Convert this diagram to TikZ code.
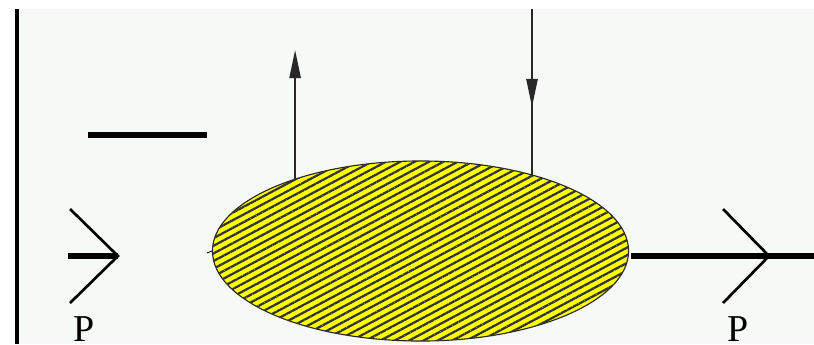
\documentclass[tikz,border=0pt]{standalone}
\usepackage{fontspec}
\setmainfont{Liberation Serif}
\usepackage{tikz}
\usetikzlibrary{shapes.geometric, arrows.meta, patterns.meta}
\definecolor{paneltint}{RGB}{245,250,247}
\definecolor{blobyellow}{RGB}{255,255,0}
\definecolor{inkgrey}{RGB}{40,40,40}

\begin{document}
\begin{tikzpicture}[
    x=0.025cm, y=-0.025cm,
    blob/.style={ellipse, draw=black!85, line width=0.8pt, fill=blobyellow,
                 minimum width=10.4cm, minimum height=4.5cm, inner sep=0pt,
                 postaction={pattern={Lines[angle=28, distance=4.8pt,
                                            line width=1.6pt]},
                             pattern color=black!80}},
    thinflow/.style={-{Triangle[length=20pt, width=8pt]}, draw=inkgrey,
                     line width=1.3pt},
    heavy/.style={line width=4.3pt},
    chevron/.style={line width=1.9pt},
    plab/.style={font=\fontsize{27}{27}\selectfont, inner sep=0pt,
                 anchor=north},
]
\useasboundingbox (0,0) rectangle (814,344);

%---------------------------------------------------------------
% panel background and left rule
%---------------------------------------------------------------
\fill[paneltint] (17,9) rectangle (814,344);
\draw[line width=2.2pt] (17,9) -- (17,344);

%---------------------------------------------------------------
% central blob
%---------------------------------------------------------------
\node[blob] (blob) at (420.5,251) {};
\coordinate (tickin) at (207,253);
\draw[line width=0.6pt] (tickin) -- (blob.west);

% vertical legs: one leaving upwards, one coming down from the top
\coordinate (uptip) at (297,50);
\coordinate (topin) at (532,9);
\draw[thinflow] (blob.150) -- (blob.150 |- uptip);
\draw[draw=inkgrey, line width=1.3pt] (topin) -- (topin |- blob.34);
\coordinate (downtip) at (532,107);
\draw[thinflow] (topin) -- (downtip);

%---------------------------------------------------------------
% bar on the upper left
%---------------------------------------------------------------
\coordinate (barl) at (88,135);
\coordinate (barr) at (207,135);
\draw[heavy] (barl) -- (barr);

%---------------------------------------------------------------
% incoming line on the left, outgoing line on the right
%---------------------------------------------------------------
\coordinate (inl) at (68,256);
\coordinate (inapex) at (118,256);
\draw[heavy] (inl) -- (inapex);
\draw[chevron] (70,209) -- (inapex) -- (70,303);
\node[plab] (pin) at (84,316) {P};

\coordinate (outstart) at (631,256);
\coordinate (outapex) at (769,256);
\coordinate (outend) at (814,256);
\draw[heavy] (outstart) -- (outend);
\draw[chevron] (723,209) -- (outapex) -- (723,303);
\node[plab] (pout) at (738,316) {P};

\end{tikzpicture}
\end{document}
